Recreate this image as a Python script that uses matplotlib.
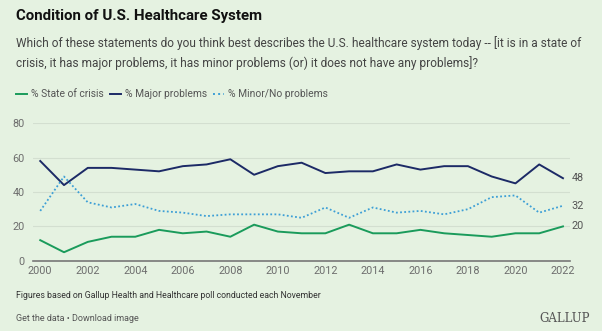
import matplotlib
matplotlib.use("Agg")
import matplotlib.pyplot as plt

years = list(range(2000, 2023))
crisis = [12, 5, 11, 14, 14, 18, 16, 17, 14, 21, 17, 16, 16, 21, 16, 16, 18, 16, 15, 14, 16, 16, 20]
major = [58, 44, 54, 54, 53, 52, 55, 56, 59, 50, 55, 57, 51, 52, 52, 56, 53, 55, 55, 49, 45, 56, 48]
minor = [29, 49, 34, 31, 33, 29, 28, 26, 27, 27, 27, 25, 31, 25, 31, 28, 29, 27, 30, 37, 38, 28, 32]
yticks = [0, 20, 40, 60, 80]
xticks = list(range(2000, 2023, 2))

bg = "#e5f2e1"
c_crisis = "#1a9b5b"
c_major = "#1c2a66"
c_minor = "#3d9fd6"
gray = "#6d6d6d"

plt.rcParams['font.family'] = ['Roboto', 'DejaVu Sans']

fig = plt.figure(figsize=(6.02, 3.31), dpi=100, facecolor=bg)
ax = fig.add_axes([0.055, 0.212, 0.892, 0.416], facecolor=bg)

ax.plot(years, crisis, color=c_crisis, lw=1.4)
ax.plot(years, major, color=c_major, lw=1.4)
ax.plot(years, minor, color=c_minor, lw=1.3, ls=(0, (1, 1.3)))

ax.set_xlim(1999.7, 2022.3)
ax.set_ylim(0, 80)
ax.set_yticks(yticks)
ax.set_xticks(xticks)
ax.grid(axis='y', color="#d3dfd0", lw=0.8)
ax.set_axisbelow(True)
for s in ['top', 'right', 'left']:
    ax.spines[s].set_visible(False)
ax.spines['bottom'].set_color("#777777")
ax.spines['bottom'].set_linewidth(1.2)
ax.tick_params(axis='both', length=0, labelsize=7.8, labelcolor=gray)
ax.tick_params(axis='x', pad=4)
ax.tick_params(axis='y', pad=6)

for vals in (major, minor, crisis):
    ax.annotate(str(vals[-1]), (years[-1], vals[-1]), xytext=(6, 0),
                textcoords='offset points', va='center', ha='left',
                fontsize=7.8, color="#555555", annotation_clip=False)

fig.text(0.026, 0.952, "Condition of U.S. Healthcare System", fontsize=10.8,
         fontweight='bold', color="#111111", va='center')
fig.text(0.026, 0.870, "Which of these statements do you think best describes the U.S. healthcare system today -- [it is in a state of",
         fontsize=8.55, color="#444444", va='center')
fig.text(0.026, 0.810, "crisis, it has major problems, it has minor problems (or) it does not have any problems]?",
         fontsize=8.55, color="#444444", va='center')

# legend row
ly = 0.716
items = [("% State of crisis", c_crisis, '-'), ("% Major problems", c_major, '-'),
         ("% Minor/No problems", c_minor, ':')]
xpos = [0.0266, 0.183, 0.354]
for (lab, col, ls), x0 in zip(items, xpos):
    fig.add_artist(plt.Line2D([x0, x0 + 0.018], [ly, ly], color=col, lw=1.4, ls=ls,
                              transform=fig.transFigure))
    fig.text(x0 + 0.025, ly, lab, fontsize=7.4, color="#555555", va='center')

fig.text(0.026, 0.106, "Figures based on Gallup Health and Healthcare poll conducted each November",
         fontsize=6.3, color="#333333", va='center')
fig.text(0.026, 0.039, "Get the data \u2022 Download image", fontsize=6.5, color="#555555", va='center')
fig.text(0.98, 0.039, "GALLUP", fontsize=8.5, family=['DejaVu Serif'], color="#555555",
         va='center', ha='right')

fig.savefig("out.png", dpi=100, facecolor=bg)
